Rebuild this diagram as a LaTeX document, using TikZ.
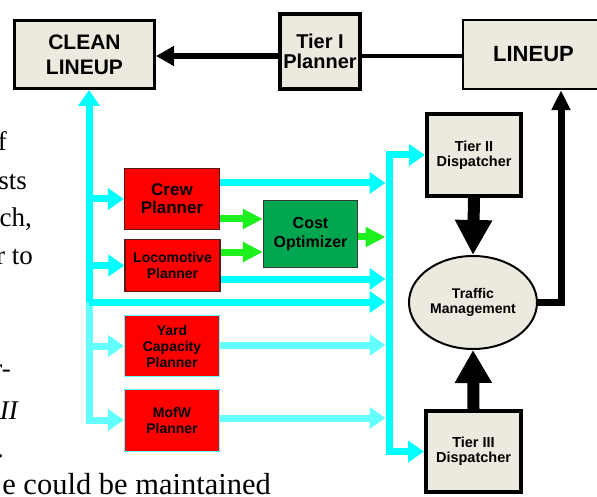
\documentclass[tikz,border=0pt]{standalone}
\usepackage{fontspec}
\setmainfont{Liberation Serif}
\newfontfamily\arialf{Liberation Sans}
\usetikzlibrary{arrows.meta,shapes.geometric}
\definecolor{beige}{RGB}{236,233,222}
\definecolor{cy}{RGB}{0,255,255}
\definecolor{lcy}{RGB}{100,255,255}
\definecolor{redb}{RGB}{255,0,0}
\definecolor{gr}{RGB}{0,166,80}
\definecolor{lg}{RGB}{30,240,30}
\definecolor{dred}{RGB}{90,25,25}
\definecolor{cbord}{RGB}{50,60,50}
\begin{document}
\begin{tikzpicture}[x=1pt,y=-1pt,
  box/.style={draw=black, fill=beige, inner sep=0pt, align=center, text=black},
  rbox/.style={fill=redb, draw=dred, line width=1.2pt, minimum width=95pt, inner sep=0pt, align=center,
     font={\arialf\bfseries\fontsize{14}{16}\selectfont}},
  ca/.style={draw=cy, line width=7pt, -{Triangle[length=16pt,width=21pt]}},
  lca/.style={draw=lcy, line width=7pt, -{Triangle[length=16pt,width=21pt]}},
  ga/.style={draw=lg, line width=7pt, -{Triangle[length=20pt,width=19pt]}},
  txt/.style={inner sep=0pt, anchor=base east, font={\fontsize{27}{30}\selectfont}}
]
\useasboundingbox (0,0) rectangle (597,497);
\clip (0,0) rectangle (597,497);

% left text fragments
\node[txt] (f1) at (7,151) {f};
\node[txt] (f2) at (27,190) {sts};
\node[txt] (f3) at (32,227) {ch,};
\node[txt] (f4) at (33,265) {r to};
\node[txt] (f5) at (11,377) {r-};
\node[txt, font={\itshape\fontsize{27}{30}\selectfont}] (f6) at (18,419) {II};
\node[txt] (f7) at (4,457) {.};
\node[txt, font={\fontsize{30.5}{32}\selectfont}] (f8) at (271,494) {e could be maintained};

% top row
\node[box, line width=3pt, minimum width=140pt, minimum height=68pt,
      font={\arialf\bfseries\fontsize{21}{25}\selectfont}] (CL) at (84.5,54.5) {CLEAN\\LINEUP};
\node[box, line width=4pt, minimum width=80pt, minimum height=75pt,
      font={\arialf\bfseries\fontsize{20}{20}\selectfont}] (T1) at (320,51.5) {Tier I\\Planner};
\node[box, line width=2.5pt, minimum width=141pt, minimum height=69pt,
      font={\arialf\bfseries\fontsize{22}{24}\selectfont}] (LU) at (533.5,54.5) {LINEUP};

% dispatchers
\node[box, line width=4pt, minimum width=94pt, minimum height=82pt,
      font={\arialf\bfseries\fontsize{14.5}{15}\selectfont}] (T2) at (474,155) {Tier II\\Dispatcher};
\node[box, line width=4pt, minimum width=95pt, minimum height=81pt,
      font={\arialf\bfseries\fontsize{14.5}{15}\selectfont}] (T3) at (473.5,451.5) {Tier III\\Dispatcher};
\node[ellipse, draw=black, fill=beige, line width=2pt, minimum width=128pt, minimum height=93pt, inner sep=0pt,
      align=center, font={\arialf\bfseries\fontsize{14}{15}\selectfont}] (TM) at (473,302.5) {Traffic\\Management};

% planners
\node[rbox, minimum height=61pt, font={\arialf\bfseries\fontsize{17}{18}\selectfont}] (Crew) at (172,199) {Crew\\Planner};
\node[rbox, minimum height=52pt] (Loco) at (172.5,265.5) {Locomotive\\Planner};
\node[rbox, draw=lcy, line width=1pt, minimum height=61pt] (Yard) at (172,346) {Yard\\Capacity\\Planner};
\node[rbox, draw=lcy, line width=1pt, minimum height=62pt] (MofW) at (172,420) {MofW\\Planner};
\node[fill=gr, draw=cbord, line width=1.2pt, minimum width=94pt, minimum height=67pt, inner sep=0pt,
      align=center, font={\arialf\bfseries\fontsize{16}{18.5}\selectfont}] (Cost) at (310.5,234) {Cost\\Optimizer};

% helper coordinates
\coordinate (tm) at (89,302);
\coordinate (bm) at (389,302);
\coordinate (bl) at (385.5,302);

% cyan trunk and branches
\draw[lca] (tm) |- (MofW.west);
\draw[lca] (tm |- Yard.west) -- (Yard.west);
\draw[ca] (tm) -- (CL.south -| tm);
\draw[ca] (tm |- Crew.west) -- (Crew.west);
\draw[ca] (tm |- Loco.west) -- (Loco.west);
\draw[ca] (tm) -- (bl);

% bus
\draw[ca, line join=miter] (bm) |- (T2.west);
\draw[ca, line join=miter] (bm) |- (T3.west);

% lines into bus
\draw[ca] (Crew.east |- 0,183) -- (bl |- 0,183);
\draw[ca] (Loco.east |- 0,279) -- (bl |- 0,279);
\draw[lca] (Yard.east |- 0,345) -- (bl |- 0,345);
\draw[lca] (MofW.east |- 0,418) -- (bl |- 0,418);

% green
\draw[ga] (Crew.east |- 0,219) -- (Cost.west |- 0,219);
\draw[ga] (Loco.east |- 0,252) -- (Cost.west |- 0,252);
\draw[ga] (Cost.east |- 0,237) -- (bl |- 0,237);

% black
\draw[line width=6pt, -{Triangle[length=18pt,width=19pt]}] (T1.west |- 0,56) -- (CL.east |- 0,56);
\draw[line width=4pt] (T1.east |- 0,56) -- (LU.west |- 0,56);
\draw[line width=12pt, -{Triangle[length=35pt,width=35pt]}] (T2.south) -- (TM.north);
\draw[line width=12pt, -{Triangle[length=33pt,width=35pt]}] (T3.north) -- (TM.south);
\draw[line width=7pt, line join=miter, -{Triangle[length=20pt,width=18pt]}] (TM.east) -| (LU.south -| 561,0);
\end{tikzpicture}
\end{document}
